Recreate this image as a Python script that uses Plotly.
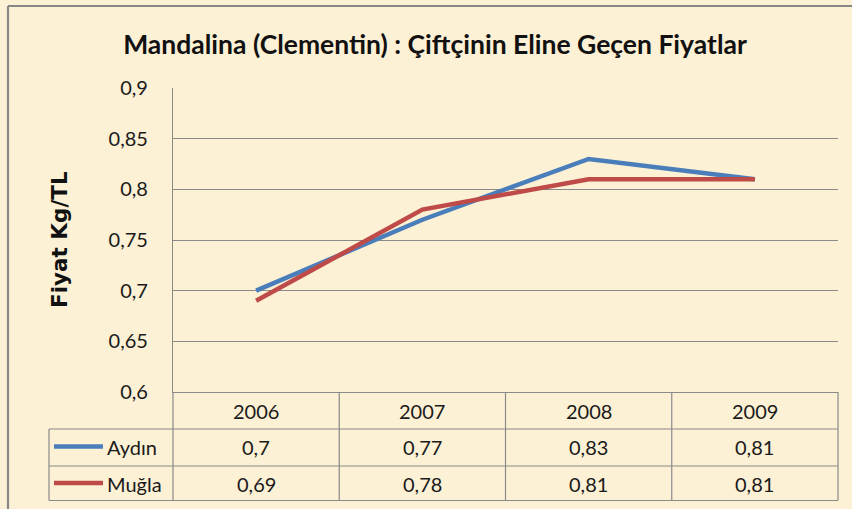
import plotly.graph_objects as go

years = ["2006", "2007", "2008", "2009"]
series_names = ["Aydın", "Muğla"]
aydin = [0.7, 0.77, 0.83, 0.81]
mugla = [0.69, 0.78, 0.81, 0.81]
y_ticks = [0.6, 0.65, 0.7, 0.75, 0.8, 0.85, 0.9]
colors = ["#4A7EBB", "#BE4B48"]

title = "Mandalina (Clementin) : Çiftçinin Eline Geçen Fiyatlar"
y_title = "Fiyat Kg/TL"

W, H = 852, 509
L, R, T, B = 173, 14, 88, 117
pw, ph = W - L - R, H - T - B

def px(p):
    return (p - L) / pw

def py(p):
    return (H - B - p) / ph

fig = go.Figure()
for name, vals, c in zip(series_names, [aydin, mugla], colors):
    fig.add_trace(go.Scatter(x=list(range(len(years))), y=vals, mode="lines", name=name,
                             line=dict(color=c, width=4.5)))

grid = "#8A8A8A"
shapes = []
for p in [429, 466, 500.5]:
    shapes.append(dict(type="line", xref="paper", yref="paper", x0=px(49), x1=1,
                       y0=py(p), y1=py(p), line=dict(color=grid, width=1.2)))
shapes.append(dict(type="line", xref="paper", yref="paper", x0=px(49), x1=px(49),
                   y0=py(429), y1=py(500.5), line=dict(color=grid, width=1.2)))
for i in range(len(years) + 1):
    xv = i / len(years)
    shapes.append(dict(type="line", xref="paper", yref="paper", x0=xv, x1=xv,
                       y0=0, y1=py(500.5), line=dict(color=grid, width=1.2)))
for row_y, c in zip([446.5, 483], colors):
    shapes.append(dict(type="line", xref="paper", yref="paper", x0=px(54), x1=px(103),
                       y0=py(row_y), y1=py(row_y), line=dict(color=c, width=4.5)))
shapes.append(dict(type="line", xref="paper", yref="paper", x0=px(8), x1=px(8),
                   y0=py(6), y1=py(560), line=dict(color="#878787", width=2.2)))
shapes.append(dict(type="line", xref="paper", yref="paper", x0=px(8), x1=px(900),
                   y0=py(6), y1=py(6), line=dict(color="#878787", width=2.2)))

font_main = "Lato, 'Open Sans', sans-serif"
txt = "#1a1a1a"
ann = []
for i, yr in enumerate(years):
    ann.append(dict(x=i, y=py(410.5), xref="x", yref="paper", text=yr, showarrow=False,
                    xanchor="center", yanchor="middle",
                    font=dict(family=font_main, size=20, color=txt)))
for row_y, vals in zip([447, 483.5], [aydin, mugla]):
    for i, v in enumerate(vals):
        ann.append(dict(x=i, y=py(row_y), xref="x", yref="paper",
                        text=str(v).replace(".", ","), showarrow=False,
                        xanchor="center", yanchor="middle",
                        font=dict(family=font_main, size=20, color=txt)))
for row_y, name in zip([447, 483.5], series_names):
    ann.append(dict(x=px(105), y=py(row_y), xref="paper", yref="paper", text=name,
                    showarrow=False, xanchor="left", yanchor="middle",
                    font=dict(family=font_main, size=20, color=txt)))
ann.append(dict(x=px(59), y=py(240), xref="paper", yref="paper", text="<b>" + y_title + "</b>",
                showarrow=False, textangle=-90, xanchor="center", yanchor="middle",
                font=dict(family="'DejaVu Sans', Verdana, sans-serif", size=21.5, color="#111111")))

fig.update_layout(
    width=W, height=H,
    margin=dict(l=L, r=R, t=T, b=B),
    paper_bgcolor="#FCF0D5",
    plot_bgcolor="rgba(0,0,0,0)",
    separators=",.",
    showlegend=False,
    title=dict(text="<b>" + title + "</b>", x=435 / W, xanchor="center",
               y=1 - 45 / H, yanchor="middle",
               font=dict(family=font_main, size=26.5, color="#111111")),
    xaxis=dict(range=[-0.5, len(years) - 0.5], showticklabels=False,
               showgrid=False, zeroline=False, showline=True, linecolor=grid, linewidth=1.2,
               ticks=""),
    yaxis=dict(range=[0.6, 0.9], tickvals=y_ticks, showgrid=True, gridcolor=grid,
               gridwidth=1.2, zeroline=False, showline=True, linecolor=grid, linewidth=1.2,
               ticks="outside", ticklen=20, tickcolor="rgba(0,0,0,0)",
               tickfont=dict(family=font_main, size=20, color=txt)),
    shapes=shapes,
    annotations=ann,
)

fig.write_html("out.html", config={"displayModeBar": False},
               post_script="document.body.style.margin='0';document.body.style.background='#FCF0D5';")
